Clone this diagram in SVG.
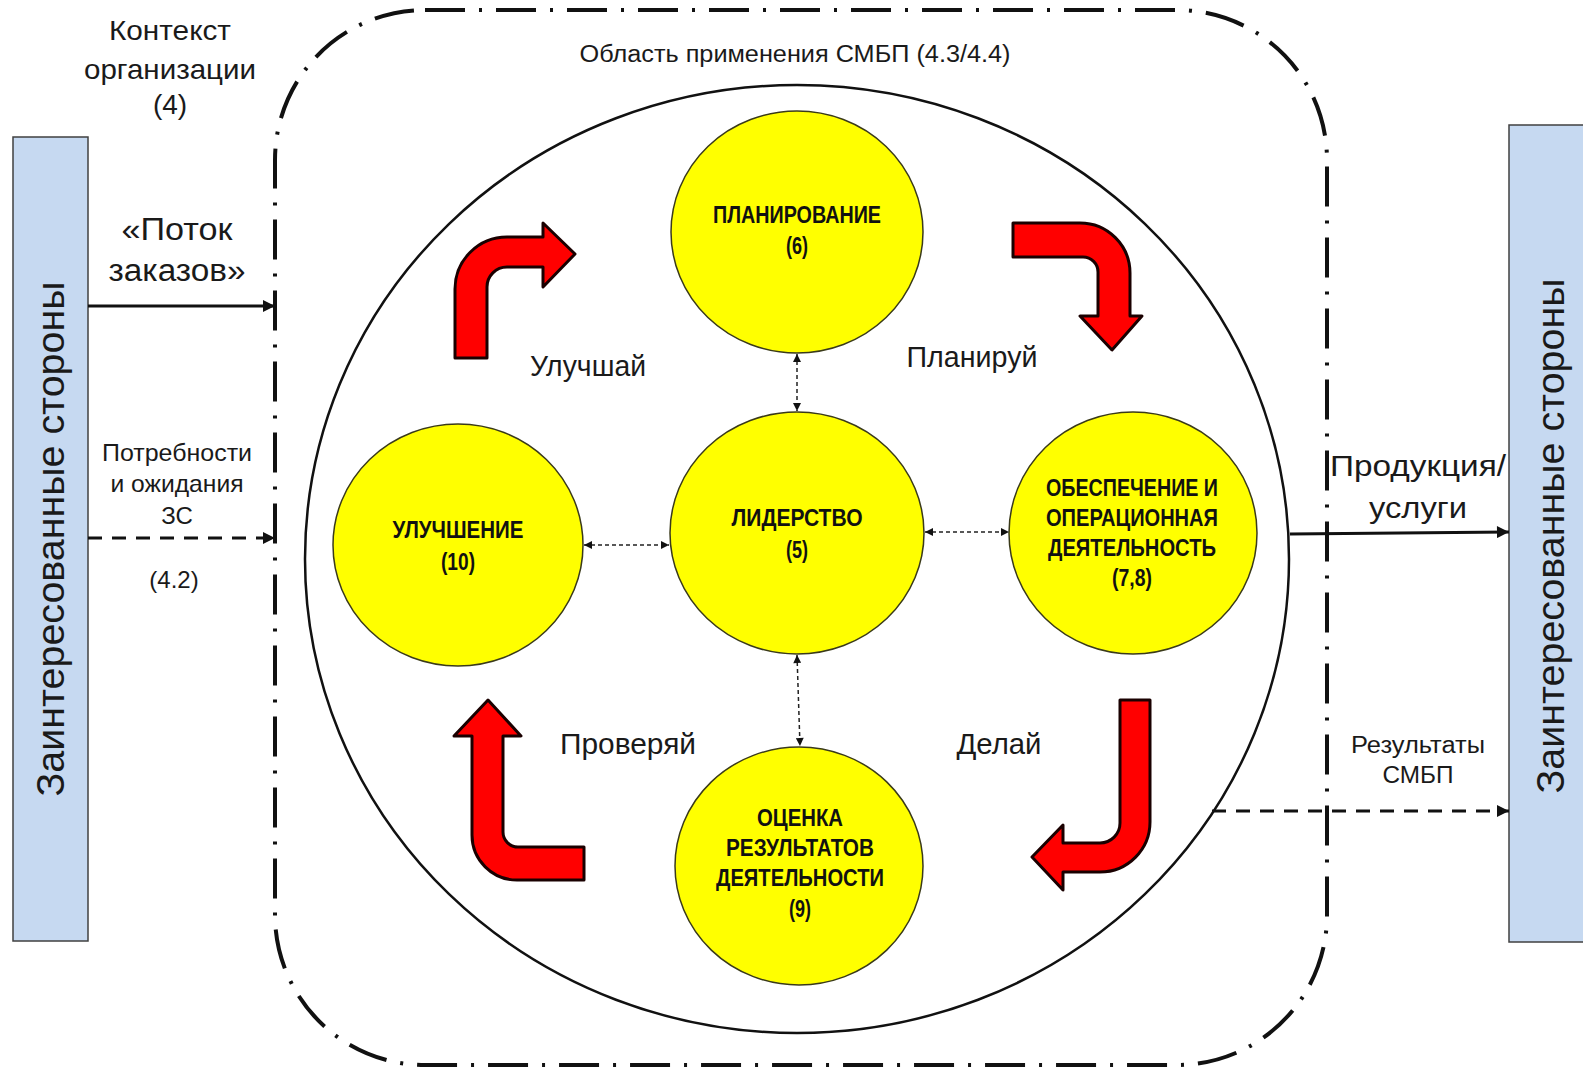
<svg xmlns="http://www.w3.org/2000/svg" width="1583" height="1068" viewBox="0 0 1583 1068">
<defs>
<style>
.t{font-family:"Liberation Sans",Arial,sans-serif;fill:#1a1a1a;text-anchor:middle}
.lbl{font-family:"Liberation Sans",Arial,sans-serif;font-weight:bold;fill:#111;text-anchor:middle;font-size:24px}
.node{fill:#ffff00;stroke:#3a3a1a;stroke-width:1.5}
.box{fill:#c6d9f1;stroke:#404040;stroke-width:1.5}
.red{fill:#ff0000;stroke:#1a0000;stroke-width:3;stroke-linejoin:round}
.dot{stroke:#222;stroke-width:1.5;stroke-dasharray:4 3;fill:none}
</style>
<marker id="ah" viewBox="0 0 10 10" refX="10" refY="5" markerWidth="9" markerHeight="8" markerUnits="userSpaceOnUse" orient="auto-start-reverse">
<path d="M0 0 L10 5 L0 10 Z" fill="#111"/>
</marker>
<marker id="big" viewBox="0 0 10 10" refX="10" refY="5" markerWidth="14" markerHeight="12" markerUnits="userSpaceOnUse" orient="auto">
<path d="M0 0 L10 5 L0 10 Z" fill="#111"/>
</marker>
</defs>
<rect width="1583" height="1068" fill="#ffffff"/>

<!-- scope boundary -->
<rect id="scope" x="275" y="10" width="1052" height="1055" rx="150" ry="150" fill="none" stroke="#111" stroke-width="4" stroke-dasharray="40 14 3 14"/>
<ellipse id="smbp" cx="797" cy="559" rx="492" ry="474" fill="none" stroke="#111" stroke-width="2.5"/>

<g id="left-stakeholders">
<rect class="box" x="13" y="137" width="75" height="804"/>
<text class="t" font-size="39" textLength="515" lengthAdjust="spacingAndGlyphs" transform="translate(64 539) rotate(-90)">Заинтересованные стороны</text>
</g>
<g id="right-stakeholders">
<rect class="box" x="1509" y="125" width="80" height="817"/>
<text class="t" font-size="39" textLength="515" lengthAdjust="spacingAndGlyphs" transform="translate(1564 536) rotate(-90)">Заинтересованные стороны</text>
</g>

<g id="labels">
<text class="t" font-size="28" x="170" y="40" textLength="122" lengthAdjust="spacingAndGlyphs">Контекст</text>
<text class="t" font-size="28" x="170" y="79" textLength="172" lengthAdjust="spacingAndGlyphs">организации</text>
<text class="t" font-size="28" x="170" y="114">(4)</text>
<text class="t" font-size="31" x="177" y="240" textLength="111" lengthAdjust="spacingAndGlyphs">«Поток</text>
<text class="t" font-size="31" x="177" y="281" textLength="137" lengthAdjust="spacingAndGlyphs">заказов»</text>
<text class="t" font-size="24" x="177" y="461" fill="#333" textLength="150" lengthAdjust="spacingAndGlyphs">Потребности</text>
<text class="t" font-size="24" x="177" y="492" fill="#333" textLength="133" lengthAdjust="spacingAndGlyphs">и ожидания</text>
<text class="t" font-size="24" x="177" y="524" fill="#333">ЗС</text>
<text class="t" font-size="24" x="174" y="588" fill="#333">(4.2)</text>
<text class="t" font-size="23" x="795" y="62" fill="#333" textLength="431" lengthAdjust="spacingAndGlyphs">Область применения  СМБП (4.3/4.4)</text>
<text class="t" font-size="29" x="588" y="376" textLength="116" lengthAdjust="spacingAndGlyphs">Улучшай</text>
<text class="t" font-size="29" x="972" y="367" textLength="131" lengthAdjust="spacingAndGlyphs">Планируй</text>
<text class="t" font-size="29" x="628" y="754" textLength="136" lengthAdjust="spacingAndGlyphs">Проверяй</text>
<text class="t" font-size="29" x="999" y="754" textLength="85" lengthAdjust="spacingAndGlyphs">Делай</text>
<text class="t" font-size="30" x="1418" y="476" textLength="176" lengthAdjust="spacingAndGlyphs">Продукция/</text>
<text class="t" font-size="30" x="1418" y="518" textLength="98" lengthAdjust="spacingAndGlyphs">услуги</text>
<text class="t" font-size="23" x="1418" y="753" fill="#333" textLength="134" lengthAdjust="spacingAndGlyphs">Результаты</text>
<text class="t" font-size="23" x="1418" y="783" fill="#333" textLength="71" lengthAdjust="spacingAndGlyphs">СМБП</text>
</g>

<g id="planning">
<ellipse class="node" cx="797" cy="232" rx="126" ry="121"/>
<text class="lbl" x="797" y="223" textLength="168" lengthAdjust="spacingAndGlyphs">ПЛАНИРОВАНИЕ</text>
<text class="lbl" x="797" y="254" textLength="22" lengthAdjust="spacingAndGlyphs">(6)</text>
</g>
<g id="leadership">
<ellipse class="node" cx="797" cy="533" rx="127" ry="121"/>
<text class="lbl" x="797" y="526" textLength="131" lengthAdjust="spacingAndGlyphs">ЛИДЕРСТВО</text>
<text class="lbl" x="797" y="558" textLength="22" lengthAdjust="spacingAndGlyphs">(5)</text>
</g>
<g id="improvement">
<ellipse class="node" cx="458" cy="545" rx="125" ry="121"/>
<text class="lbl" x="458" y="538" textLength="131" lengthAdjust="spacingAndGlyphs">УЛУЧШЕНИЕ</text>
<text class="lbl" x="458" y="570" textLength="34" lengthAdjust="spacingAndGlyphs">(10)</text>
</g>
<g id="operation">
<ellipse class="node" cx="1133" cy="533" rx="124" ry="121"/>
<text class="lbl" x="1132" y="496" textLength="172" lengthAdjust="spacingAndGlyphs">ОБЕСПЕЧЕНИЕ И</text>
<text class="lbl" x="1132" y="526" textLength="172" lengthAdjust="spacingAndGlyphs">ОПЕРАЦИОННАЯ</text>
<text class="lbl" x="1132" y="556" textLength="168" lengthAdjust="spacingAndGlyphs">ДЕЯТЕЛЬНОСТЬ</text>
<text class="lbl" x="1132" y="586" textLength="40" lengthAdjust="spacingAndGlyphs">(7,8)</text>
</g>
<g id="evaluation">
<ellipse class="node" cx="799" cy="866" rx="124" ry="119"/>
<text class="lbl" x="800" y="826" textLength="86" lengthAdjust="spacingAndGlyphs">ОЦЕНКА</text>
<text class="lbl" x="800" y="856" textLength="148" lengthAdjust="spacingAndGlyphs">РЕЗУЛЬТАТОВ</text>
<text class="lbl" x="800" y="886" textLength="168" lengthAdjust="spacingAndGlyphs">ДЕЯТЕЛЬНОСТИ</text>
<text class="lbl" x="800" y="917" textLength="22" lengthAdjust="spacingAndGlyphs">(9)</text>
</g>

<g id="cycle-arrows">
<path id="improve-arrow" class="red" d="M455 358 L455 289 A52 52 0 0 1 507 237 L543 237 L543 223 L575 254 L543 287 L543 267 L507 267 A20 20 0 0 0 487 287 L487 358 Z"/>
<path id="plan-arrow" class="red" d="M1013 223 L1080 223 A50 50 0 0 1 1130 273 L1130 316 L1142 316 L1112 350 L1080 316 L1098 316 L1098 272 A15 15 0 0 0 1083 257 L1013 257 Z"/>
<path id="do-arrow" class="red" d="M1120 700 L1150 700 L1150 822 A50 50 0 0 1 1100 872 L1063 872 L1063 890 L1032 857 L1063 825 L1063 843 L1100 843 A20 20 0 0 0 1120 823 Z"/>
<path id="check-arrow" class="red" d="M472 736 L454 736 L488 700 L521 736 L503 736 L503 832 A15 15 0 0 0 518 847 L584 847 L584 880 L517 880 A45 45 0 0 1 472 835 Z"/>
</g>

<g id="connectors">
<line class="dot" x1="797" y1="354" x2="797" y2="411" marker-start="url(#ah)" marker-end="url(#ah)"/>
<line class="dot" x1="584" y1="545" x2="669" y2="545" marker-start="url(#ah)" marker-end="url(#ah)"/>
<line class="dot" x1="925" y1="532" x2="1009" y2="532" marker-start="url(#ah)" marker-end="url(#ah)"/>
<line class="dot" x1="797" y1="655" x2="800" y2="746" marker-start="url(#ah)" marker-end="url(#ah)"/>
<line x1="88" y1="306" x2="275" y2="306" stroke="#111" stroke-width="3" marker-end="url(#big)"/>
<line x1="88" y1="538" x2="275" y2="538" stroke="#111" stroke-width="3" stroke-dasharray="14 10" marker-end="url(#big)"/>
<line x1="1290" y1="534" x2="1509" y2="532" stroke="#111" stroke-width="3" marker-end="url(#big)"/>
<line x1="1212" y1="811" x2="1509" y2="811" stroke="#111" stroke-width="3" stroke-dasharray="14 10" marker-end="url(#big)"/>
</g>
</svg>
